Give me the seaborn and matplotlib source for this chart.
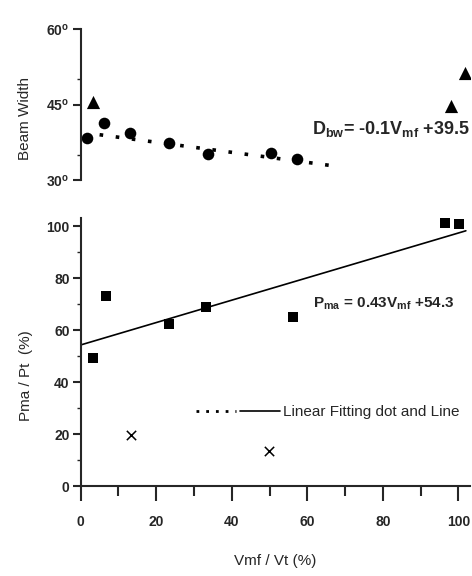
import matplotlib
matplotlib.use("Agg")
import matplotlib.pyplot as plt
from matplotlib.legend_handler import HandlerTuple
from matplotlib.lines import Line2D
import seaborn as sns

# Beam width panel
bw_circle_x = [1.6, 6.1, 13.0, 23.5, 33.6, 50.5, 57.4]
bw_circle_y = [38.3, 41.3, 39.3, 37.3, 35.2, 35.4, 34.2]
bw_tri_x = [3.2, 98.1, 101.9]
bw_tri_y = [45.5, 44.7, 51.3]
bw_fit_x = [5, 66]
bw_fit_y = [39.0, 32.9]

# Power ratio panel
pr_square_x = [3.2, 6.6, 23.3, 33.3, 56.3, 96.5, 100.2]
pr_square_y = [49.2, 73.1, 62.3, 68.8, 65.0, 101.2, 100.8]
pr_cross_x = [13.4, 49.8]
pr_cross_y = [19.6, 13.5]
pr_fit_x = [0, 102]
pr_fit_y = [54.3, 98.2]

sns.set_style("ticks")
plt.rcParams['font.family'] = ['Liberation Sans', 'DejaVu Sans']
plt.rcParams['mathtext.fontset'] = 'custom'
plt.rcParams['mathtext.rm'] = 'Liberation Sans:bold'
plt.rcParams['mathtext.it'] = 'Liberation Sans:italic'
plt.rcParams['mathtext.bf'] = 'Liberation Sans:bold'

fig = plt.figure(figsize=(4.72, 5.76), dpi=100)
ax1 = fig.add_axes([0.171, 0.6875, 0.824, 0.262])
ax2 = fig.add_axes([0.171, 0.156, 0.824, 0.465])

dot_style = (0, (1, 3.5))

# top panel
sns.lineplot(x=bw_fit_x, y=bw_fit_y, ax=ax1, color='black', lw=2.6, linestyle=dot_style)
sns.scatterplot(x=bw_circle_x, y=bw_circle_y, ax=ax1, color='black', marker='o', s=70,
                edgecolor='black', linewidth=0)
sns.scatterplot(x=bw_tri_x, y=bw_tri_y, ax=ax1, color='black', marker='^', s=90,
                edgecolor='black', linewidth=0)
ax1.set_xlim(0, 103)
ax1.set_ylim(30, 60)
ax1.set_yticks([30, 45, 60])
ax1.set_yticklabels([r'30$^{\rm o}$', r'45$^{\rm o}$', r'60$^{\rm o}$'])
ax1.set_yticks([35, 50], minor=True)
ax1.set_xticks([])
for s in ['top', 'right', 'bottom']:
    ax1.spines[s].set_visible(False)
ax1.spines['left'].set_linewidth(1.5)
ax1.tick_params(axis='y', which='major', length=6, width=1.5, labelsize=10, pad=2)
ax1.tick_params(axis='y', which='minor', length=3, width=1)
for lab in ax1.get_yticklabels():
    lab.set_fontweight('bold')
ax1.set_ylabel('Beam Width', fontsize=11)
ax1.yaxis.set_label_coords(-0.126, 0.41)
ax1.text(103, 40.2, r'D$_{\rm bw}$= -0.1V$_{\rm mf}$ +39.5', fontsize=13,
         fontweight='bold', ha='right', va='center')
ax1.patch.set_alpha(0)

# bottom panel
sns.lineplot(x=pr_fit_x, y=pr_fit_y, ax=ax2, color='black', lw=1.2)
sns.scatterplot(x=pr_square_x, y=pr_square_y, ax=ax2, color='black', marker='s', s=45,
                edgecolor='black', linewidth=0)
sns.scatterplot(x=pr_cross_x, y=pr_cross_y, ax=ax2, color='black', marker='x', s=45,
                linewidth=1.1)
ax2.set_xlim(0, 103)
ax2.set_ylim(0, 103)
ax2.set_xticks(range(0, 101, 20))
ax2.set_xticks(range(10, 100, 20), minor=True)
ax2.set_yticks(range(0, 101, 20))
ax2.set_yticks(range(10, 100, 20), minor=True)
for s in ['top', 'right']:
    ax2.spines[s].set_visible(False)
ax2.spines['left'].set_linewidth(1.5)
ax2.spines['bottom'].set_linewidth(1.5)
ax2.tick_params(axis='x', which='major', length=11, width=1.5, labelsize=10, pad=10)
ax2.tick_params(axis='x', which='minor', length=7, width=1.5)
ax2.tick_params(axis='y', which='major', length=6, width=1.5, labelsize=10, pad=2)
ax2.tick_params(axis='y', which='minor', length=3, width=1)
for lab in ax2.get_xticklabels() + ax2.get_yticklabels():
    lab.set_fontweight('bold')
ax2.set_xlabel('Vmf / Vt (%)', fontsize=11, labelpad=18)
ax2.set_ylabel('Pma / Pt  (%)', fontsize=11)
ax2.yaxis.set_label_coords(-0.123, 0.414)
ax2.text(99, 70, r'P$_{\rm ma}$ = 0.43V$_{\rm mf}$ +54.3', fontsize=11,
         fontweight='bold', ha='right', va='center')

h_dot = Line2D([], [], color='black', lw=2, linestyle=(0, (1, 2.5)))
h_line = Line2D([], [], color='black', lw=1.2)
ax2.legend(handles=[(h_dot, h_line)], labels=['Linear Fitting dot and Line'],
           handler_map={tuple: HandlerTuple(ndivide=None, pad=0.3)},
           loc='center right', bbox_to_anchor=(0.974, 28.5 / 103), frameon=False,
           handlelength=5.5, handletextpad=0.2, borderpad=0, borderaxespad=0,
           fontsize=11)

fig.savefig('out.png', dpi=100)
